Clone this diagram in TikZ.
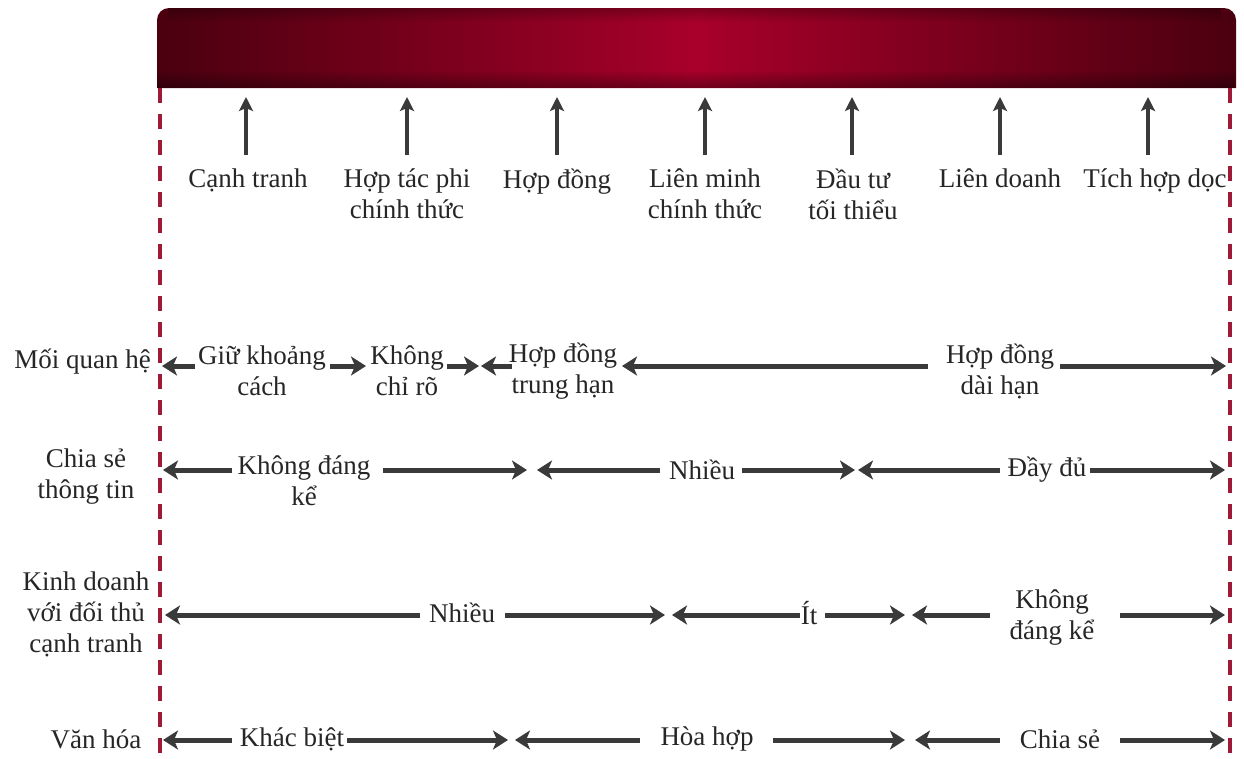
\documentclass[tikz,border=0pt]{standalone}
\usepackage{fontspec}
\setmainfont{Liberation Serif}
\usetikzlibrary{arrows.meta,fadings}
\definecolor{barmid}{HTML}{A8002A}
\definecolor{baredge}{HTML}{4A000F}
\definecolor{dashred}{HTML}{9E1A36}
\definecolor{arrgray}{HTML}{3A3A3A}
\definecolor{txtgray}{HTML}{262626}
\tikzset{
  txt/.style={font=\fontsize{27}{31}\selectfont, text=txtgray, align=center, inner sep=0pt},
  harrow/.style={draw=arrgray, line width=5pt, -{Stealth[length=15pt,width=19pt,inset=4pt]}},
  uparrow/.style={draw=arrgray, line width=4pt, -{Stealth[length=14pt,width=14pt,inset=3pt]}},
  dline/.style={draw=dashred, line width=4pt, dash pattern=on 15pt off 11pt},
}
\begin{document}
\begin{tikzpicture}[x=1pt,y=-1pt]
\useasboundingbox (0,0) rectangle (1244,758);
\fill[white] (0,0) rectangle (1244,758);
% top bar
\shade[left color=baredge, right color=baredge, middle color=barmid]
  (157,88) -- (157,20) arc[start angle=180,end angle=270,radius=12] -- (1224,8)
  arc[start angle=270,end angle=360,radius=12] -- (1236,88) -- cycle;
\fill[black, opacity=0.35, path fading=north] (157,70) rectangle (1236,88);
\fill[black, opacity=0.25, path fading=south] (169,8) rectangle (1224,22);
% dashed boundaries
\coordinate (LT) at (160,88);
\coordinate (LB) at (160,758);
\coordinate (RT) at (1230,88);
\coordinate (RB) at (1230,758);
\draw[dline] (LT) -- (LB);
\draw[dline] (RT) -- (RB);
% top categories
\foreach \n/\x in {c1/246, c2/407, c3/557, c4/705, c5/852, c6/1000, c7/1148}{
  \coordinate (\n tip) at (\x,97);
  \coordinate (\n tail) at (\x,155);
  \draw[uparrow] (\n tail) -- (\n tip);
}
\node[txt, anchor=north] (t1) at (248,169) {Cạnh tranh};
\node[txt, anchor=north] (t2) at (407,169) {Hợp tác phi\\chính thức};
\node[txt, anchor=north] (t3) at (557,169) {Hợp đồng};
\node[txt, anchor=north] (t4) at (705,169) {Liên minh\\chính thức};
\node[txt, anchor=north] (t5) at (853,169) {Đầu tư\\tối thiểu};
\node[txt, anchor=north] (t6) at (1000,169) {Liên doanh};
\node[txt, anchor=north] (t7) at (1155,169) {Tích hợp dọc};
% row labels
\node[txt, anchor=east] (h1) at (151,362) {Mối quan hệ};
\node[txt] (h2) at (86,477) {Chia sẻ\\thông tin};
\node[txt] (h3) at (86,614) {Kinh doanh\\với đối thủ\\cạnh tranh};
\node[txt] (h4) at (96,739) {Văn hóa};
% row 1
\node[txt] (r1a) at (262,371) {Giữ khoảng\\cách};
\node[txt] (r1b) at (407,371) {Không\\chỉ rõ};
\node[txt] (r1c) at (563,371) {Hợp đồng\\trung hạn};
\node[txt] (r1d) at (1000,371) {Hợp đồng\\dài hạn};
\foreach \i/\a/\b in {1/195/162, 2/330/366, 3/447/479, 4/512/481, 5/928/622, 6/1060/1226}{
  \coordinate (r1s\i) at (\a,366);
  \coordinate (r1e\i) at (\b,366);
  \draw[harrow] (r1s\i) -- (r1e\i);
}
% row 2
\node[txt] (r2a) at (304,481) {Không đáng\\kể};
\node[txt] (r2b) at (702,470) {Nhiều};
\node[txt] (r2c) at (1047,470) {Đầy đủ};
\foreach \i/\a/\b in {1/232/163, 2/383/527, 3/660/537, 4/742/855, 5/1000/858, 6/1090/1225}{
  \coordinate (r2s\i) at (\a,470);
  \coordinate (r2e\i) at (\b,470);
  \draw[harrow] (r2s\i) -- (r2e\i);
}
% row 3
\node[txt] (r3a) at (462,613) {Nhiều};
\node[txt] (r3b) at (809,613) {Ít};
\node[txt] (r3c) at (1052,618) {Không\\đáng kể};
\foreach \i/\a/\b in {1/420/165, 2/505/665, 3/800/672, 4/825/905, 5/990/912, 6/1120/1225}{
  \coordinate (r3s\i) at (\a,615);
  \coordinate (r3e\i) at (\b,615);
  \draw[harrow] (r3s\i) -- (r3e\i);
}
% row 4
\node[txt] (r4a) at (292,739) {Khác biệt};
\node[txt] (r4b) at (707,739) {Hòa hợp};
\node[txt] (r4c) at (1060,739) {Chia sẻ};
\foreach \i/\a/\b in {1/232/163, 2/347/508, 3/640/515, 4/773/905, 5/1000/915, 6/1120/1225}{
  \coordinate (r4s\i) at (\a,740);
  \coordinate (r4e\i) at (\b,740);
  \draw[harrow] (r4s\i) -- (r4e\i);
}
\end{tikzpicture}
\end{document}
